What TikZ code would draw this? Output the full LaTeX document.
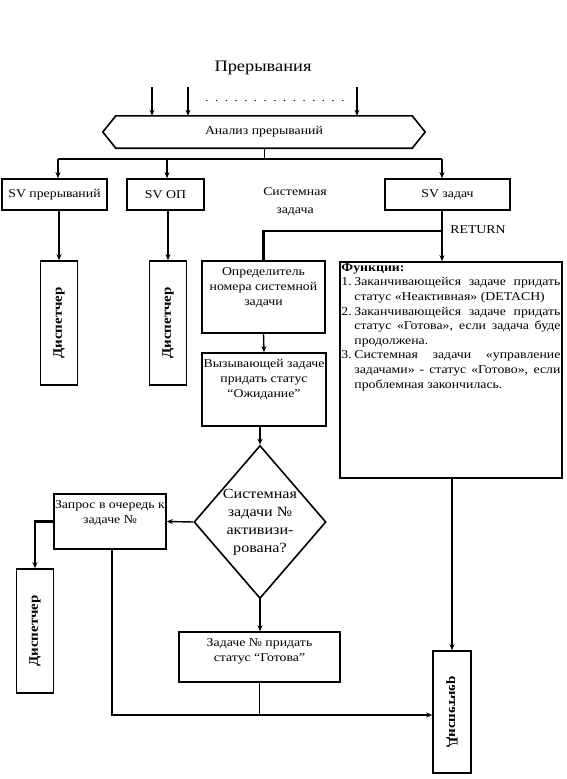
\documentclass[tikz,border=0pt]{standalone}
\usepackage{fontspec}
\setmainfont[FakeStretch=1.15]{Liberation Serif}
\usetikzlibrary{arrows.meta,shapes.geometric,calc}

\begin{document}
\begin{tikzpicture}[x=1pt,y=-1pt,
	box/.style={draw,line width=1.6pt,inner sep=0pt},
	txt/.style={align=center,inner sep=3pt,font=\fontsize{12}{15}\selectfont},
	intxt/.style={txt,below=4pt},
	decision/.style={draw,diamond,line width=1.6pt,inner sep=0pt},
	dispbox/.style={box,minimum width=37,minimum height=124},
	disptxt/.style={rotate=90,font=\fontsize{13}{14}\selectfont\bfseries},
	link/.style={line width=1.4pt},
	heavy/.style={line width=2.6pt},
	tip/.style={-{Stealth[length=6pt,width=5pt]}}]

	\useasboundingbox (0,0) rectangle (566,779);
	\node[font=\fontsize{16}{18}\selectfont] (title) at (263,68) {Прерывания};
	\coordinate (in1) at (152,87);
	\coordinate (in2) at (188,87);
	\coordinate (in3) at (357,87);
	\node[font={\fontsize{11}{12}\selectfont\spaceskip=5.5pt\relax}] (dots) at (275,101) {. . . . . . . . . . . . . . .};
	\node[txt,minimum width=296,minimum height=32,inner sep=0pt] (anal) at (264,132) {Анализ прерываний};
	\draw[box] ($(anal.west)+(-13,0)$) -- (anal.north west) -- (anal.north east) -- ($(anal.east)+(13,0)$) -- (anal.south east) -- (anal.south west) -- cycle;
	\draw[link,tip] (in1) -- (in1 |- anal.north);
	\draw[link,tip] (in2) -- (in2 |- anal.north);
	\draw[heavy,tip] (in3) -- (in3 |- anal.north);

	\coordinate (br) at (264,159);
	\coordinate (b1) at (58,159);
	\coordinate (b2) at (167,159);
	\coordinate (b3) at (442,159);
	\draw[link,line width=1pt] (anal.south) -- (br);
	\draw[link] (b1) -- (b3);

	\node[box,txt,minimum width=105,minimum height=31] (svint) at (54.5,194.5) {SV прерываний};
	\node[box,txt,minimum width=77,minimum height=31] (svop) at (165.5,194.5) {SV ОП};
	\node[box,txt,minimum width=125,minimum height=31] (svtask) at (447.5,194.5) {SV задач};
	\node[txt,font=\fontsize{12}{18}\selectfont] (sysl) at (295,202) {Системная\\задача};
	\draw[link,tip] (b1) -- (b1 |- svint.north);
	\draw[link,tip] (b2) -- (b2 |- svop.north);
	\draw[link,tip] (b3) -- (b3 |- svtask.north);

	\node[dispbox] (disp1) at (59,323) {};
	\node[disptxt] (disp1t) at (disp1) {Диспетчер};
	\node[dispbox] (disp2) at (168,323) {};
	\node[disptxt] (disp2t) at (disp2) {Диспетчер};
	\draw[link,tip] (disp1.north |- svint.south) -- (disp1.north);
	\draw[heavy,tip] (disp2.north |- svop.south) -- (disp2.north);

	\coordinate (ret) at (442,231);
	\node[txt] (retl) at (478,230) {RETURN};
	\node[box,minimum width=222,minimum height=216] (func) at (451,370) {};
	\node[anchor=north west,inner sep=2pt,text width=219,align=justify,font=\fontsize{12}{14.6}\selectfont] (funct) at (func.north west) {\parindent=0pt
		\textbf{Функции:}\par
		\hangindent=13pt\hangafter=1\makebox[13pt][l]{1.}Заканчивающейся задаче придать\linebreak статус «Неактивная» (DETACH)\par
		\hangindent=13pt\hangafter=1\makebox[13pt][l]{2.}Заканчивающейся задаче придать\linebreak статус «Готова», если задача буде\linebreak продолжена.\par
		\hangindent=13pt\hangafter=1\makebox[13pt][l]{3.}Системная задачи «управление\linebreak задачами» - статус «Готово», если\linebreak проблемная закончилась.\par};
	\draw[heavy,tip] (b3 |- svtask.south) -- (b3 |- func.north);

	\node[box,minimum width=123,minimum height=72] (opr) at (263.5,297) {};
	\node[intxt] (oprt) at (opr.north) {Определитель\\номера системной\\задачи};
	\draw[heavy] (ret) -| (opr.north);
	\node[box,minimum width=124,minimum height=73] (call) at (264,389.5) {};
	\node[intxt] (callt) at (call.north) {Вызывающей задаче\\придать статус\\``Ожидание''};
	\draw[link,tip] (opr.south) -- (call.north);

	\node[decision,minimum width=132,minimum height=153] (q) at (260,522) {};
	\node[txt,font=\fontsize{14}{18}\selectfont] (qt) at (q) {Системная\\задачи №\\активизи-\\рована?};
	\draw[heavy,tip] (q.north |- call.south) -- (q.north);

	\node[box,minimum width=112,minimum height=55] (req) at (110,521.5) {};
	\node[intxt] (reqt) at (req.north) {Запрос в очередь к\\задаче №};
	\draw[link,tip] (q.west) -- (req.east);
	\node[dispbox] (disp3) at (35,631) {};
	\node[disptxt] (disp3t) at (disp3) {Диспетчер};
	\draw[heavy,tip] (req.west) -| (disp3.north);

	\node[box,minimum width=161,minimum height=50] (rdy) at (259.5,657) {};
	\node[intxt] (rdyt) at (rdy.north) {Задаче № придать\\статус ``Готова''};
	\draw[heavy,tip] (q.south) -- (q.south |- rdy.north);
	\node[dispbox,minimum width=38,minimum height=122] (disp4) at (452,712) {};
	\node[disptxt,yscale=-1] (disp4t) at (disp4) {Диспетчер};
	\coordinate (low) at (112,715);
	\draw[heavy,tip] (low |- req.south) -- (low) -- (low -| disp4.west);
	\draw[link] (rdy.south) -- (rdy.south |- low);
	\draw[heavy,tip] (disp4.north |- func.south) -- (disp4.north);
\end{tikzpicture}
\end{document}
